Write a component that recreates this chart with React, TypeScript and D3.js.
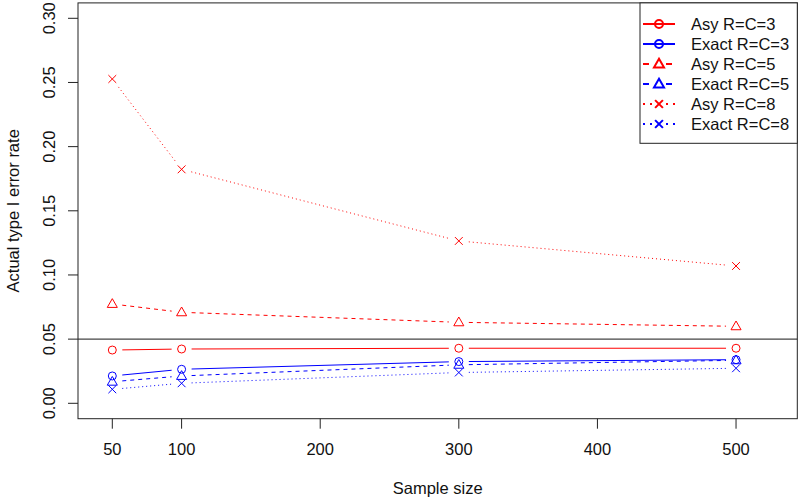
import React from "react";
import * as d3 from "d3";

const sampleSizes = [50, 100, 300, 500];
const asy3 = [0.0415, 0.0423, 0.0429, 0.0429];
const exact3 = [0.0213, 0.0265, 0.0325, 0.0340];
const asy5 = [0.0774, 0.0709, 0.0631, 0.0600];
const exact5 = [0.0168, 0.0213, 0.0300, 0.0335];
const asy8 = [0.2527, 0.1823, 0.1265, 0.1070];
const exact8 = [0.0109, 0.0156, 0.0240, 0.0273];
const xTicks = [50, 100, 200, 300, 400, 500];
const yTicks = [0, 0.05, 0.1, 0.15, 0.2, 0.25, 0.3];
const seriesNames = ["Asy R=C=3", "Exact R=C=3", "Asy R=C=5", "Exact R=C=5", "Asy R=C=8", "Exact R=C=8"];
const refLine = 0.05;

const RED = "#ff0000";
const BLUE = "#0000ff";
const FONT = "'Liberation Sans', Arial, Helvetica, sans-serif";
const FS = 16.5;

type Series = { name: string; values: number[]; color: string; dash: string; shape: "circle" | "triangle" | "cross" };

const series: Series[] = [
  { name: seriesNames[0], values: asy3, color: RED, dash: "", shape: "circle" },
  { name: seriesNames[1], values: exact3, color: BLUE, dash: "", shape: "circle" },
  { name: seriesNames[2], values: asy5, color: RED, dash: "4,4", shape: "triangle" },
  { name: seriesNames[3], values: exact5, color: BLUE, dash: "4,4", shape: "triangle" },
  { name: seriesNames[4], values: asy8, color: RED, dash: "1,3", shape: "cross" },
  { name: seriesNames[5], values: exact8, color: BLUE, dash: "1,3", shape: "cross" },
];

const L = 78, R = 797.3, T = 2.9, B = 418.7;
const x = d3.scaleLinear().domain([25.25, 544.2]).range([L, R]);
const y = d3.scaleLinear().domain([-0.012, 0.312]).range([B, T]);

function Marker({ cx, cy, shape, color, sw = 1 }: { cx: number; cy: number; shape: string; color: string; sw?: number }) {
  if (shape === "circle") return <circle cx={cx} cy={cy} r={4} fill="none" stroke={color} strokeWidth={sw} />;
  if (shape === "triangle") {
    const s = 5.3;
    const p = d3.path();
    p.moveTo(cx, cy - s);
    p.lineTo(cx + s * 0.95, cy + s * 0.65);
    p.lineTo(cx - s * 0.95, cy + s * 0.65);
    p.closePath();
    return <path d={p.toString()} fill="none" stroke={color} strokeWidth={sw} />;
  }
  const s = 3.9;
  return (
    <g stroke={color} strokeWidth={sw}>
      <line x1={cx - s} y1={cy - s} x2={cx + s} y2={cy + s} />
      <line x1={cx - s} y1={cy + s} x2={cx + s} y2={cy - s} />
    </g>
  );
}

function segmentsWithGap(s: Series, gap: number) {
  const segs: JSX.Element[] = [];
  for (let i = 0; i < s.values.length - 1; i++) {
    const x1 = x(sampleSizes[i]), y1 = y(s.values[i]);
    const x2 = x(sampleSizes[i + 1]), y2 = y(s.values[i + 1]);
    const len = Math.hypot(x2 - x1, y2 - y1);
    if (len <= 2 * gap) continue;
    const ux = (x2 - x1) / len, uy = (y2 - y1) / len;
    segs.push(
      <line key={i} x1={x1 + ux * gap} y1={y1 + uy * gap} x2={x2 - ux * gap} y2={y2 - uy * gap}
        stroke={s.color} strokeWidth={1} strokeDasharray={s.dash || undefined} />
    );
  }
  return segs;
}

export default function App() {
  const legX1 = 643, legX2 = 675, legTextX = 691;
  const legY0 = 24, legStep = 20;
  return (
    <svg width={800} height={501} style={{ position: "absolute", left: 0, top: 0, background: "#fff" }} fontFamily={FONT}>
      <rect x={0} y={0} width={800} height={501} fill="#fff" />
      <line x1={L} x2={R} y1={y(refLine)} y2={y(refLine)} stroke="#444" strokeWidth={1.2} />
      {series.map((s, si) => (
        <g key={si}>
          {segmentsWithGap(s, 10)}
          {s.values.map((v, i) => (
            <Marker key={i} cx={x(sampleSizes[i])} cy={y(v)} shape={s.shape} color={s.color} />
          ))}
        </g>
      ))}
      <rect x={L} y={T} width={R - L} height={B - T} fill="none" stroke="#222" strokeWidth={1} />
      {xTicks.map((t) => (
        <g key={t}>
          <line x1={x(t)} x2={x(t)} y1={B} y2={B + 10} stroke="#222" />
          <text x={x(t)} y={449} textAnchor="middle" dominantBaseline="central" fontSize={FS} fill="#111">{t}</text>
        </g>
      ))}
      <text x={(L + R) / 2} y={488} textAnchor="middle" dominantBaseline="central" fontSize={FS} fill="#111">Sample size</text>
      {yTicks.map((t) => (
        <g key={t}>
          <line x1={L} x2={L - 10} y1={y(t)} y2={y(t)} stroke="#222" />
          <text transform={`translate(48.5,${y(t)}) rotate(-90)`} textAnchor="middle" dominantBaseline="central" fontSize={FS} fill="#111">{t.toFixed(2)}</text>
        </g>
      ))}
      <text transform={`translate(13,${(T + B) / 2}) rotate(-90)`} textAnchor="middle" dominantBaseline="central" fontSize={FS} fill="#111">Actual type I error rate</text>
      <rect x={640} y={T} width={R - 640} height={143.3 - T} fill="#fff" stroke="#222" strokeWidth={1} />
      {series.map((s, i) => {
        const ly = legY0 + i * legStep;
        const mid = (legX1 + legX2) / 2;
        return (
          <g key={i}>
            {s.shape === "circle" ? (
              <line x1={legX1} x2={legX2} y1={ly} y2={ly} stroke={s.color} strokeWidth={2} />
            ) : (
              <>
                <line x1={legX1} x2={mid - 7} y1={ly} y2={ly} stroke={s.color} strokeWidth={2} strokeDasharray={s.shape === "triangle" ? "6,3" : "2,5"} />
                <line x1={mid + 7} x2={legX2} y1={ly} y2={ly} stroke={s.color} strokeWidth={2} strokeDasharray={s.shape === "triangle" ? "6,3" : "2,5"} />
              </>
            )}
            <Marker cx={mid} cy={ly} shape={s.shape} color={s.color} sw={2} />
            <text x={legTextX} y={ly} dominantBaseline="central" fontSize={FS} fill="#111">{s.name}</text>
          </g>
        );
      })}
    </svg>
  );
}
